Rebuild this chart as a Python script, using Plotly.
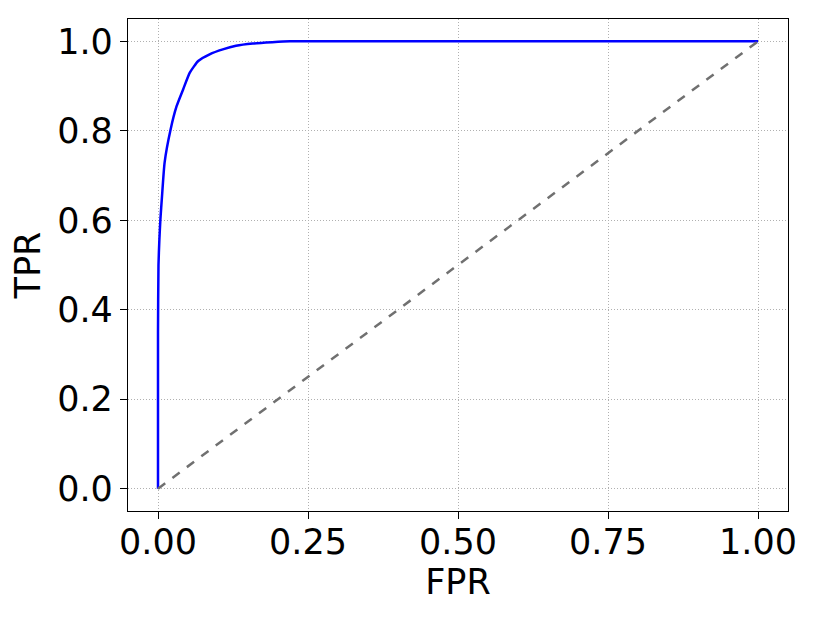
import plotly.graph_objects as go

fpr = [0.0, 0.0, 0.0008, 0.0023, 0.004, 0.0067, 0.011, 0.021, 0.031, 0.042,
       0.053, 0.067, 0.086, 0.108, 0.13, 0.158, 0.19, 0.22, 1.0]
tpr = [0.0, 0.35, 0.5, 0.557, 0.602, 0.654, 0.729, 0.803, 0.855, 0.893,
       0.930, 0.956, 0.971, 0.982, 0.99, 0.995, 0.998, 1.0, 1.0]
diag_x = [0.0, 1.0]
diag_y = [0.0, 1.0]

x_ticks = [0.0, 0.25, 0.5, 0.75, 1.0]
x_tick_labels = ["0.00", "0.25", "0.50", "0.75", "1.00"]
y_ticks = [0.0, 0.2, 0.4, 0.6, 0.8, 1.0]
y_tick_labels = ["0.0", "0.2", "0.4", "0.6", "0.8", "1.0"]

fig = go.Figure()
fig.add_trace(go.Scatter(x=fpr, y=tpr, mode="lines",
                         line=dict(color="#0000ff", width=2.5, shape="spline", smoothing=0.5),
                         showlegend=False))
fig.add_trace(go.Scatter(x=diag_x, y=diag_y, mode="lines",
                         line=dict(color="#707070", width=2.5, dash="dash"), showlegend=False))

font = dict(family="DejaVu Sans", size=35, color="black")
axis_common = dict(
    showline=True, linecolor="black", linewidth=1.3, mirror=True,
    ticks="outside", ticklen=7, tickwidth=1.3, tickcolor="black",
    showgrid=True, gridcolor="#b0b0b0", gridwidth=1, griddash="1px,2px",
    zeroline=False, tickfont=font, automargin=False,
)
fig.update_layout(
    width=813, height=617,
    margin=dict(l=120, r=33, t=11, b=114),
    paper_bgcolor="white", plot_bgcolor="white",
    font=font,
    xaxis=dict(range=[-0.05, 1.05], tickvals=x_ticks, ticktext=x_tick_labels,
               ticklabelstandoff=-7,
               title=dict(text="FPR", font=font, standoff=6), **axis_common),
    yaxis=dict(range=[-0.05, 1.05], tickvals=y_ticks, ticktext=y_tick_labels,
               title=dict(text="TPR", font=font, standoff=12), **axis_common),
)
fig.write_html("out.html")
